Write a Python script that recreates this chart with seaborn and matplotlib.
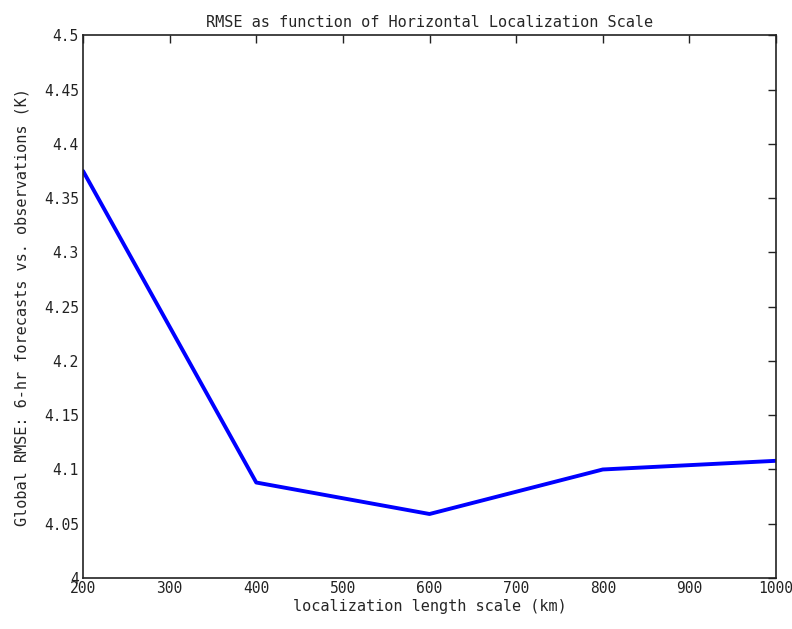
import matplotlib
matplotlib.use("Agg")
import matplotlib.pyplot as plt
import seaborn as sns
import pandas as pd

scale_km = [200, 400, 600, 800, 1000]
rmse = [4.375, 4.088, 4.059, 4.100, 4.108]
xticks = [200, 300, 400, 500, 600, 700, 800, 900, 1000]
yticks = [4.0, 4.05, 4.1, 4.15, 4.2, 4.25, 4.3, 4.35, 4.4, 4.45, 4.5]
ylabels = ["4", "4.05", "4.1", "4.15", "4.2", "4.25", "4.3", "4.35", "4.4", "4.45", "4.5"]

sns.set_style("white")
plt.rcParams['font.family'] = ['DejaVu Sans Mono']

df = pd.DataFrame({"scale": scale_km, "rmse": rmse})
fig = plt.figure(figsize=(7.92, 6.29), dpi=100)
ax = fig.add_axes([0.1048, 0.081, 0.875, 0.863])
sns.lineplot(data=df, x="scale", y="rmse", ax=ax, color=(0, 0, 1), linewidth=2.8)
ax.set_xlim(200, 1000)
ax.set_ylim(4, 4.5)
ax.set_xticks(xticks)
ax.set_xticklabels([str(t) for t in xticks])
ax.set_yticks(yticks)
ax.set_yticklabels(ylabels)
ax.tick_params(direction="in", length=6, width=1, top=True, right=True,
               labelsize=10.5, colors="#222222", pad=3)
ax.tick_params(axis="x", pad=2)
for s in ax.spines.values():
    s.set_color("#222222")
    s.set_linewidth(1.2)
ax.set_xlabel("localization length scale (km)", fontsize=11, labelpad=2)
ax.set_ylabel("Global RMSE: 6-hr forecasts vs. observations (K)", fontsize=11, labelpad=10)
ax.set_title("RMSE as function of Horizontal Localization Scale", fontsize=11, pad=6)
fig.savefig("out.png", dpi=100)
